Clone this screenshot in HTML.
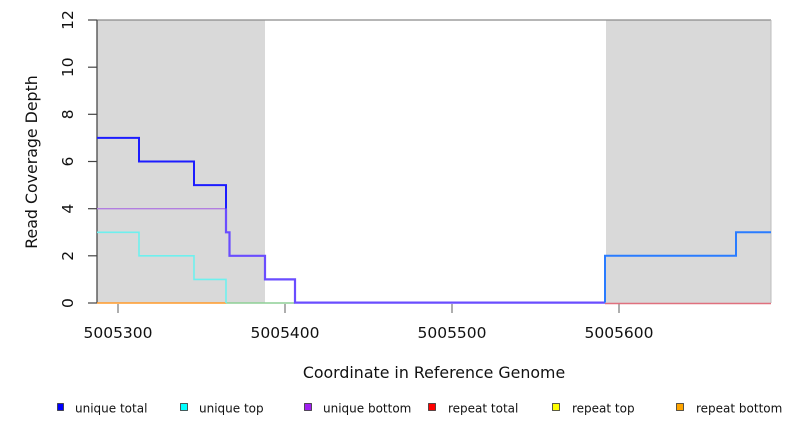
<!DOCTYPE html>
<html>
<head>
<meta charset="utf-8">
<style>
  html,body{margin:0;padding:0;background:#fff;}
  svg{display:block;}
  text{font-family:"DejaVu Sans","Liberation Sans",sans-serif;fill:#111;}
</style>
</head>
<body>
<svg width="792" height="432" viewBox="0 0 792 432" xmlns="http://www.w3.org/2000/svg">
  <!-- shaded regions -->
  <rect x="97" y="20" width="168" height="283" fill="#d9d9d9"/>
  <rect x="606" y="20" width="165" height="283" fill="#d9d9d9"/>
  <!-- frame -->
  <line x1="97" y1="20" x2="771" y2="20" stroke="#8a8a8a" stroke-width="1.2"/>
  <line x1="771" y1="20" x2="771" y2="303" stroke="#bdbdbd" stroke-width="1"/>
  <line x1="97" y1="20" x2="97" y2="303" stroke="#555" stroke-width="1.4"/>

  <!-- y ticks -->
  <g stroke="#444" stroke-width="1.2">
    <line x1="88" y1="303" x2="97" y2="303"/>
    <line x1="88" y1="255.8" x2="97" y2="255.8"/>
    <line x1="88" y1="208.7" x2="97" y2="208.7"/>
    <line x1="88" y1="161.5" x2="97" y2="161.5"/>
    <line x1="88" y1="114.3" x2="97" y2="114.3"/>
    <line x1="88" y1="67.2" x2="97" y2="67.2"/>
    <line x1="88" y1="20" x2="97" y2="20"/>
  </g>
  <g font-size="15.5" text-anchor="middle">
    <text x="73" y="303" transform="rotate(-90 73 303)">0</text>
    <text x="73" y="255.8" transform="rotate(-90 73 255.8)">2</text>
    <text x="73" y="208.7" transform="rotate(-90 73 208.7)">4</text>
    <text x="73" y="161.5" transform="rotate(-90 73 161.5)">6</text>
    <text x="73" y="114.3" transform="rotate(-90 73 114.3)">8</text>
    <text x="73" y="67.2" transform="rotate(-90 73 67.2)">10</text>
    <text x="73" y="20" transform="rotate(-90 73 20)">12</text>
  </g>
  <text x="37" y="162" font-size="15.8" text-anchor="middle" transform="rotate(-90 37 162)">Read Coverage Depth</text>

  <!-- x ticks -->
  <g stroke="#999" stroke-width="1.6">
    <line x1="118" y1="304" x2="118" y2="313"/>
    <line x1="285" y1="304" x2="285" y2="313"/>
    <line x1="452" y1="304" x2="452" y2="313"/>
    <line x1="619" y1="304" x2="619" y2="313"/>
  </g>
  <g font-size="15.5" text-anchor="middle">
    <text x="118" y="338">5005300</text>
    <text x="285" y="338">5005400</text>
    <text x="452" y="338">5005500</text>
    <text x="619" y="338">5005600</text>
  </g>
  <text x="434" y="378" font-size="15.8" text-anchor="middle">Coordinate in Reference Genome</text>

  <!-- baseline colored segments -->
  <line x1="97" y1="303" x2="226" y2="303" stroke="#ff9a2a" stroke-width="1.6"/>
  <line x1="226" y1="303" x2="295" y2="303" stroke="#8ecf96" stroke-width="1.6"/>
  <line x1="605" y1="303.5" x2="771" y2="303.5" stroke="#e0707e" stroke-width="1.4"/>

  <!-- unique bottom at 4 -->
  <line x1="97" y1="208.7" x2="226" y2="208.7" stroke="#b27ee0" stroke-width="1.4"/>

  <!-- unique top (cyan) -->
  <polyline fill="none" stroke="#6ef0ee" stroke-width="1.6"
    points="97,232.3 139,232.3 139,255.8 194,255.8 194,279.4 226,279.4 226,303"/>

  <!-- unique total left (blue) -->
  <polyline fill="none" stroke="#1c1cff" stroke-width="2"
    points="97,137.9 139,137.9 139,161.5 194,161.5 194,185.1 226,185.1 226,208.7"/>
  <!-- overlapping part (purple-blue) -->
  <polyline fill="none" stroke="#6a4dff" stroke-width="2.2"
    points="226,208.7 226,232.3 229.5,232.3 229.5,255.8 265,255.8 265,279.4 295,279.4 295,302.6 605,302.6"/>
  <!-- right part -->
  <polyline fill="none" stroke="#2a7cff" stroke-width="2"
    points="605,302.6 605,255.8 736,255.8 736,232.3 771,232.3"/>

  <!-- legend -->
  <g stroke="#333" stroke-width="0.8">
    <rect x="57.5" y="403.5" width="6" height="7" fill="#0000ff"/>
    <rect x="180.5" y="403.5" width="7" height="7" fill="#00ffff"/>
    <rect x="304.5" y="403.5" width="7" height="7" fill="#a020f0"/>
    <rect x="428.5" y="403.5" width="7" height="7" fill="#ff0000"/>
    <rect x="552.5" y="403.5" width="7" height="7" fill="#ffff00"/>
    <rect x="676.5" y="403.5" width="7" height="7" fill="#ffa500"/>
  </g>
  <g font-size="12">
    <text x="75" y="412.5">unique total</text>
    <text x="199" y="412.5">unique top</text>
    <text x="323" y="412.5">unique bottom</text>
    <text x="448" y="412.5">repeat total</text>
    <text x="572" y="412.5">repeat top</text>
    <text x="696" y="412.5">repeat bottom</text>
  </g>
</svg>
</body>
</html>
